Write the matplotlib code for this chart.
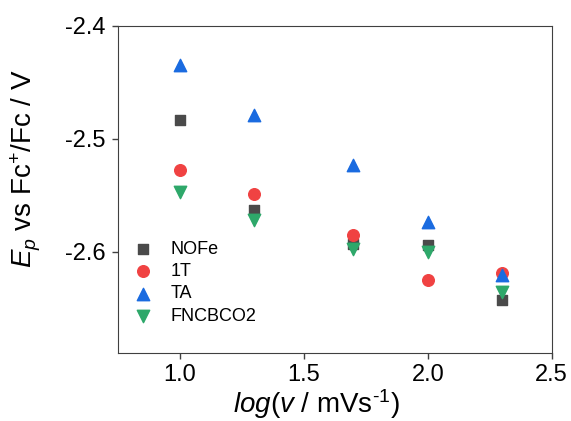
import numpy as np
import matplotlib.pyplot as plt

plt.rcParams['font.family'] = ['Liberation Sans', 'DejaVu Sans']
plt.rcParams['mathtext.fontset'] = 'custom'
plt.rcParams['mathtext.rm'] = 'Liberation Sans'
plt.rcParams['mathtext.it'] = 'Liberation Sans:italic'
plt.rcParams['axes.unicode_minus'] = False

# --- dados ---
log_v = [1.0, 1.3, 1.7, 2.0, 2.3]
nofe = [-2.483, -2.563, -2.593, -2.594, -2.643]
t1 = [-2.528, -2.549, -2.585, -2.625, -2.619]
ta = [-2.435, -2.479, -2.523, -2.574, -2.621]
fncbco2 = [-2.547, -2.572, -2.598, -2.600, -2.636]

fig = plt.figure(figsize=(5.71, 4.21), dpi=100)
ax = fig.add_axes([118 / 571, 1 - 353 / 421, 433.7 / 571, 327 / 421])

ax.scatter(log_v, nofe, marker='s', s=52, color='#4a4a4a', label='NOFe', zorder=3)
ax.scatter(log_v, t1, marker='o', s=70, color='#f04242', label='1T', zorder=3)
ax.scatter(log_v, ta, marker='^', s=80, color='#1a6be0', label='TA', zorder=3)
ax.scatter(log_v, fncbco2, marker='v', s=80, color='#2ea86a', label='FNCBCO2', zorder=3)

ax.set_xlim(0.75, 2.5)
ax.set_ylim(-2.69, -2.4)
ax.set_xticks([1.0, 1.5, 2.0, 2.5])
ax.set_yticks([-2.4, -2.5, -2.6])
ax.tick_params(direction='out', length=4.3, width=1.0, labelsize=17, color='#404040')
ax.tick_params(axis='x', pad=3.5)
ax.tick_params(axis='y', pad=4.5)
for s in ax.spines.values():
    s.set_color('#404040')

ax.set_xlabel(r"$\it{log(v}$ / mVs$^{\text{-1}}$)", fontsize=20)
ax.xaxis.set_label_coords((316.5 - 118) / 433.7, -0.105)
ax.set_ylabel(r"$E_p$ vs Fc$^{+}$/Fc / V", fontsize=20)
ax.yaxis.set_label_coords(-0.172, 0.564)

ax.legend(loc='upper left', bbox_to_anchor=(0.037, 0.344), frameon=False,
          fontsize=13, handlelength=1.0, handletextpad=1.0, labelspacing=0.3,
          borderpad=0, borderaxespad=0)

fig.savefig('out.png', dpi=100)
